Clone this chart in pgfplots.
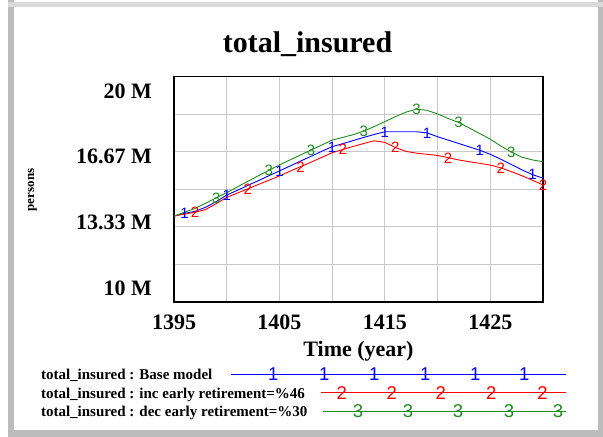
\documentclass[border=0pt]{standalone}
\usepackage{fontspec}
\setmainfont{Liberation Serif}
\newfontfamily\marksf{Liberation Sans}
\usepackage{pgfplots}
\usepackage{pgfplotstable}
\pgfplotsset{compat=1.18}

\definecolor{vblue}{RGB}{0,0,255}
\definecolor{vred}{RGB}{255,0,0}
\definecolor{vgreen}{RGB}{30,140,30}
\definecolor{framegray}{RGB}{188,188,188}
\definecolor{gridgray}{RGB}{200,200,200}

% total insured, millions of persons
\pgfplotstableread{
year base  inc   dec
1395 13.81 13.81 13.81
1396 13.93 13.90 13.98
1397 14.02 13.98 14.15
1398 14.20 14.10 14.38
1399 14.45 14.36 14.62
1400 14.74 14.64 14.85
1401 14.95 14.83 15.10
1402 15.17 15.02 15.35
1403 15.38 15.21 15.60
1404 15.60 15.40 15.84
1405 15.81 15.59 16.08
1406 16.03 15.80 16.30
1407 16.25 16.00 16.52
1408 16.46 16.20 16.74
1409 16.68 16.41 16.96
1410 16.89 16.62 17.18
1411 17.02 16.76 17.30
1412 17.16 16.90 17.42
1413 17.30 17.03 17.58
1414 17.43 17.15 17.78
1415 17.55 17.08 18.00
1416 17.55 16.85 18.22
1417 17.55 16.68 18.42
1418 17.55 16.60 18.55
1419 17.50 16.55 18.50
1420 17.33 16.50 18.34
1421 17.18 16.40 18.14
1422 17.03 16.30 17.96
1423 16.88 16.22 17.72
1424 16.73 16.15 17.47
1425 16.55 16.07 17.22
1426 16.33 15.95 16.92
1427 16.10 15.78 16.65
1428 15.86 15.60 16.42
1429 15.65 15.40 16.30
1430 15.49 15.19 16.22
}\insured

\newcommand{\markfont}{\marksf\fontsize{15bp}{16bp}\selectfont}
\newcommand{\legmarkfont}{\marksf\fontsize{18.5bp}{19bp}\selectfont}
\tikzset{legmark/.style={font=\legmarkfont, inner sep=0pt, anchor=base, yshift=-6.6bp}}

\begin{document}
\begin{tikzpicture}
\useasboundingbox (0bp,0bp) rectangle (603bp,437bp);
\draw[framegray, line width=6bp] (10.5bp,3.5bp) -- (10.5bp,437bp);
\draw[framegray, line width=6bp] (600.5bp,3.5bp) -- (600.5bp,437bp);
\draw[framegray, line width=6bp] (7.5bp,3.5bp) -- (603bp,3.5bp);
\draw[framegray!55, line width=5bp] (7.5bp,432.5bp) -- (603bp,432.5bp);
\begin{axis}[
    scale only axis,
    width=369bp, height=225.5bp,
    at={(174bp,135bp)}, anchor=south west,
    xmin=1395, xmax=1430, ymin=10, ymax=20,
    clip=false,
    axis line style={black, line width=1.6bp},
    xtick={1395,1405,1415,1425},
    xticklabels={1395,1405,1415,1425},
    minor xtick={1400,1410,1420},
    ytick={10.62,13.548,16.452,19.335},
    yticklabels={10 M,13.33 M,16.67 M,20 M},
    minor ytick={11.6667,13.3333,15,16.6667,18.3333},
    xmajorgrids, xminorgrids, yminorgrids, ymajorgrids=false,
    major grid style={gridgray, line width=0.8bp},
    minor grid style={gridgray, line width=0.8bp},
    major tick length=0pt, minor tick length=0pt,
    /pgf/number format/assume math mode=true,
    ticklabel style={font=\bfseries\fontsize{22bp}{24bp}\selectfont, inner sep=0pt},
    xticklabel style={anchor=base, yshift=-27bp},
    yticklabel style={anchor=east, xshift=-22bp},
    title={total\_insured},
    title style={font=\bfseries\fontsize{30bp}{32bp}\selectfont, at={(axis description cs:0.3618,1.079)}, anchor=base, inner sep=0pt},
    xlabel={Time (year)},
    xlabel style={font=\bfseries\fontsize{22bp}{24bp}\selectfont, at={(axis description cs:0.5,-0.2417)}, anchor=base, inner sep=0pt},
    ylabel={persons},
    ylabel style={font=\bfseries\fontsize{13bp}{15bp}\selectfont, at={(axis description cs:-0.3835,0.4967)}, anchor=center, inner sep=0pt},
    legend plot pos=right,
    legend cell align=left,
    legend style={draw=none, fill=none, inner sep=0pt, outer sep=0pt,
        column sep=0pt, row sep=3.5bp,
        at={(axis description cs:-0.3604,-0.4049)}, anchor=west,
        font=\bfseries\fontsize{15bp}{17.5bp}\selectfont,
        nodes={inner sep=0pt}},
    every axis plot/.append style={line width=0.9bp, mark=text, text mark as node=true,
        text mark style={font=\markfont, inner sep=0pt, anchor=base, yshift=-5.4bp}},
]

\addplot[vblue, text mark={1},
    mark indices={2,6,11,16,21,25,30,35},
    legend image code/.code={
        \draw[vblue, line width=0.9bp] (0bp,0bp) -- (244.5bp,0bp);
        \draw[vblue, line width=0.9bp, overlay] (-90bp,0bp) -- (0bp,0bp);
        \node[overlay, text=vblue, legmark] at (-48bp,0bp) {1};
        \foreach \p in {3,53,104,154,203} {\node[text=vblue, legmark] at (\p bp,0bp) {1};}
    }] table[x=year, y=base] {\insured};
\addlegendentry{\makebox[278bp][l]{\strut total\_insured : Base model}}

\addplot[vred, text mark={2},
    mark indices={3,8,13,17,22,27,32,36},
    legend image code/.code={
        \draw[vred, line width=0.9bp] (0bp,0bp) -- (244.5bp,0bp);
        \foreach \p in {20.6,70.6,119.5,170.2,221.4} {\node[text=vred, legmark] at (\p bp,0bp) {2};}
    }] table[x=year, y=inc] {\insured};
\addlegendentry{\makebox[278bp][l]{\strut total\_insured : inc early retirement=\%46}}

\addplot[vgreen, text mark={3},
    mark indices={5,10,14,19,24,28,33},
    legend image code/.code={
        \draw[vgreen, line width=0.9bp] (2bp,0bp) -- (244.5bp,0bp);
        \foreach \p in {36.8,86.8,136.8,187.9,236.8} {\node[text=vgreen, legmark] at (\p bp,0bp) {3};}
    }] table[x=year, y=dec] {\insured};
\addlegendentry{\makebox[278bp][l]{\strut total\_insured : dec early retirement=\%30}}

\end{axis}
\end{tikzpicture}
\end{document}
